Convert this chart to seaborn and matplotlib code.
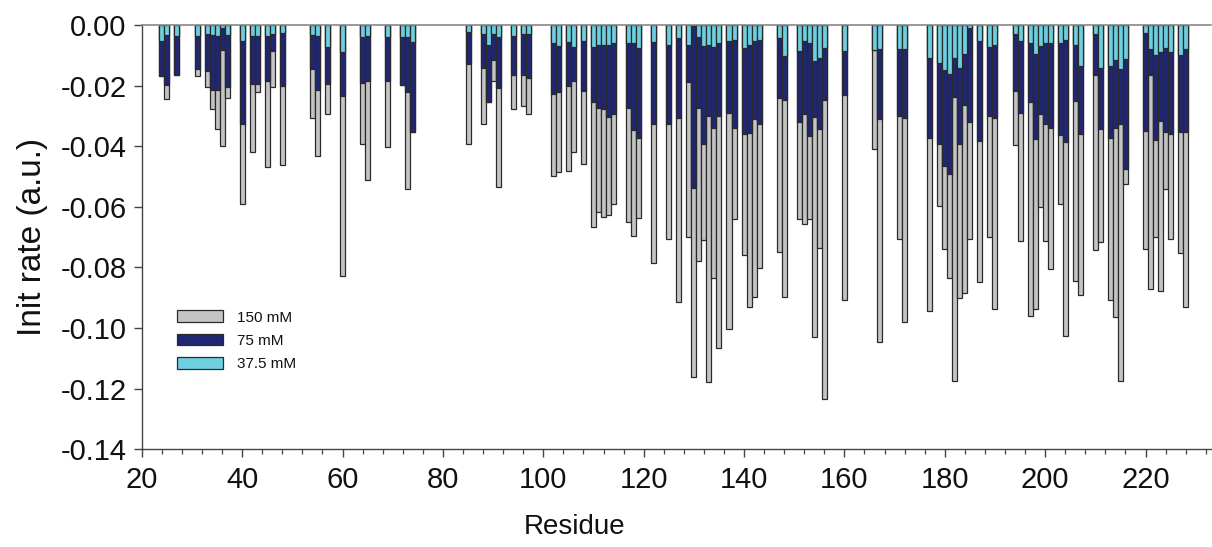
import matplotlib
matplotlib.use("Agg")
import matplotlib.pyplot as plt
import matplotlib.patches as mpatches
from matplotlib.ticker import MultipleLocator
import seaborn as sns

residues = [24, 25, 27, 31, 33, 34, 35, 36, 37, 40, 42, 43, 45, 46, 48, 54, 55, 57, 60, 64,
            65, 69, 72, 73, 74, 85, 88, 89, 90, 91, 94, 96, 97, 102, 103, 105, 106, 108, 110, 111,
            112, 113, 114, 117, 118, 119, 122, 125, 127, 129, 130, 131, 132, 133, 134, 135, 137, 138, 140, 141,
            142, 143, 147, 148, 151, 152, 153, 154, 155, 156, 160, 166, 167, 171, 172, 177, 179, 180, 181, 182,
            183, 184, 185, 187, 189, 190, 194, 195, 197, 198, 199, 200, 201, 203, 204, 206, 207, 210, 211, 213,
            214, 215, 216, 220, 221, 222, 223, 224, 225, 227, 228]

rate_150 = [-0.0168, -0.0244, -0.0165, -0.0167, -0.0204, -0.0278, -0.0342, -0.0398, -0.0239, -0.0589,
            -0.0418, -0.0222, -0.0468, -0.0204, -0.0462, -0.0305, -0.0432, -0.0294, -0.0830, -0.0393,
            -0.0512, -0.0404, -0.0198, -0.0541, -0.0354, -0.0393, -0.0325, -0.0255, -0.0184, -0.0536,
            -0.0278, -0.0267, -0.0292, -0.0497, -0.0484, -0.0481, -0.0420, -0.0457, -0.0668, -0.0618,
            -0.0633, -0.0627, -0.0589, -0.0651, -0.0695, -0.0638, -0.0787, -0.0707, -0.0913, -0.0701,
            -0.1163, -0.0778, -0.0710, -0.1179, -0.0836, -0.1065, -0.1003, -0.0641, -0.0759, -0.0930,
            -0.0897, -0.0803, -0.0750, -0.0899, -0.0641, -0.0657, -0.0641, -0.1031, -0.0737, -0.1235,
            -0.0908, -0.0410, -0.1047, -0.0706, -0.0981, -0.0944, -0.0596, -0.0740, -0.0836, -0.1174,
            -0.0902, -0.0883, -0.0707, -0.0849, -0.0701, -0.0938, -0.0396, -0.0712, -0.0960, -0.0938,
            -0.0602, -0.0712, -0.0805, -0.0591, -0.1025, -0.0845, -0.0891, -0.0743, -0.0717, -0.0908,
            -0.0963, -0.1174, -0.0525, -0.0740, -0.0872, -0.0701, -0.0877, -0.0542, -0.0705, -0.0754,
            -0.0930]

rate_75 = [-0.0168, -0.0196, -0.0165, -0.0145, -0.0152, -0.0215, -0.0215, -0.0083, -0.0204, -0.0328,
           -0.0193, -0.0193, -0.0184, -0.0086, -0.0201, -0.0145, -0.0215, -0.0195, -0.0234, -0.0190,
           -0.0185, -0.0184, -0.0198, -0.0220, -0.0354, -0.0127, -0.0141, -0.0255, -0.0116, -0.0207,
           -0.0165, -0.0165, -0.0173, -0.0228, -0.0220, -0.0201, -0.0185, -0.0217, -0.0253, -0.0273,
           -0.0278, -0.0303, -0.0294, -0.0275, -0.0347, -0.0372, -0.0327, -0.0325, -0.0308, -0.0187,
           -0.0537, -0.0272, -0.0393, -0.0299, -0.0341, -0.0299, -0.0289, -0.0339, -0.0360, -0.0355,
           -0.0310, -0.0325, -0.0242, -0.0248, -0.0321, -0.0294, -0.0365, -0.0303, -0.0344, -0.0248,
           -0.0231, -0.0083, -0.0310, -0.0299, -0.0308, -0.0374, -0.0393, -0.0465, -0.0493, -0.0237,
           -0.0393, -0.0264, -0.0319, -0.0382, -0.0299, -0.0308, -0.0217, -0.0289, -0.0255, -0.0376,
           -0.0294, -0.0328, -0.0338, -0.0363, -0.0385, -0.0250, -0.0358, -0.0165, -0.0344, -0.0372,
           -0.0341, -0.0325, -0.0476, -0.0350, -0.0165, -0.0380, -0.0316, -0.0352, -0.0358, -0.0352,
           -0.0354]

rate_37_5 = [-0.0053, -0.0033, -0.0035, -0.0035, -0.0030, -0.0033, -0.0035, -0.0011, -0.0033, -0.0052,
             -0.0035, -0.0035, -0.0036, -0.0028, -0.0025, -0.0033, -0.0036, -0.0072, -0.0088, -0.0039,
             -0.0035, -0.0039, -0.0040, -0.0040, -0.0055, -0.0022, -0.0028, -0.0064, -0.0028, -0.0039,
             -0.0035, -0.0030, -0.0030, -0.0058, -0.0068, -0.0055, -0.0072, -0.0052, -0.0072, -0.0066,
             -0.0064, -0.0064, -0.0058, -0.0060, -0.0060, -0.0077, -0.0057, -0.0066, -0.0041, -0.0066,
             -0.0004, -0.0039, -0.0069, -0.0066, -0.0072, -0.0058, -0.0053, -0.0050, -0.0074, -0.0066,
             -0.0052, -0.0050, -0.0044, -0.0101, -0.0086, -0.0053, -0.0058, -0.0118, -0.0108, -0.0077,
             -0.0086, -0.0083, -0.0079, -0.0079, -0.0079, -0.0110, -0.0124, -0.0149, -0.0160, -0.0108,
             -0.0140, -0.0094, -0.0008, -0.0052, -0.0072, -0.0064, -0.0030, -0.0052, -0.0058, -0.0094,
             -0.0069, -0.0060, -0.0058, -0.0058, -0.0050, -0.0066, -0.0135, -0.0030, -0.0140, -0.0135,
             -0.0116, -0.0146, -0.0113, -0.0025, -0.0080, -0.0099, -0.0088, -0.0077, -0.0088, -0.0099,
             -0.0079]

series_labels = ["150 mM", "75 mM", "37.5 mM"]
colors = ["#c4c4c4", "#1f2672", "#6dcfe0"]

sns.set_style("white")
plt.rcParams["font.family"] = ["Liberation Sans", "DejaVu Sans"]
plt.rcParams["text.color"] = "#111111"
plt.rcParams["axes.labelcolor"] = "#111111"
plt.rcParams["xtick.color"] = "#111111"
plt.rcParams["ytick.color"] = "#111111"

fig = plt.figure(figsize=(12.12, 5.47), dpi=100)
ax = fig.add_axes([0.117, 0.179, 0.882, 0.775])

edge = "#2a2a2a"
for vals, col in zip([rate_150, rate_75, rate_37_5], colors):
    sns.barplot(x=residues, y=vals, native_scale=True, width=1.0, color=col,
                saturation=1, edgecolor=edge, linewidth=0.9, errorbar=None, ax=ax)

ax.set_xlim(20, 233)
ax.set_ylim(-0.14, 0.0)
ax.xaxis.set_major_locator(MultipleLocator(20))
ax.xaxis.set_minor_locator(MultipleLocator(4))
ax.set_yticks([0.0, -0.02, -0.04, -0.06, -0.08, -0.10, -0.12, -0.14])
ax.set_yticklabels(["0.00", "-0.02", "-0.04", "-0.06", "-0.08", "-0.10", "-0.12", "-0.14"])

ax.tick_params(axis="both", which="major", direction="out", length=6, width=1.0,
               color="#444444", labelsize=21, left=True, bottom=True)
ax.tick_params(axis="y", which="major", pad=5)
ax.tick_params(axis="x", which="major", pad=6)
ax.tick_params(axis="x", which="minor", direction="out", length=3.5, width=0.9,
               color="#444444", bottom=True)

for side in ["left", "bottom"]:
    ax.spines[side].set_color("#444444")
    ax.spines[side].set_linewidth(1.0)
ax.spines["top"].set_color("#888888")
ax.spines["top"].set_linewidth(1.2)
ax.spines["right"].set_visible(False)

ax.set_xlabel("Residue", fontsize=20, va="top")
ax.set_ylabel("Init rate (a.u.)", fontsize=24, va="center")
ax.xaxis.set_label_coords(0.405, -0.152)
ax.yaxis.set_label_coords(-0.102, 0.5)

handles = [mpatches.Patch(facecolor=c, edgecolor=edge, linewidth=0.9) for c in colors]
fig.legend(handles, series_labels, loc="upper left", bbox_to_anchor=(0.1375, 0.452),
           frameon=False, fontsize=11, handlelength=3.0, handleheight=0.8,
           handletextpad=0.9, labelspacing=0.6, borderpad=0.2)

fig.savefig("out.png", dpi=100)
